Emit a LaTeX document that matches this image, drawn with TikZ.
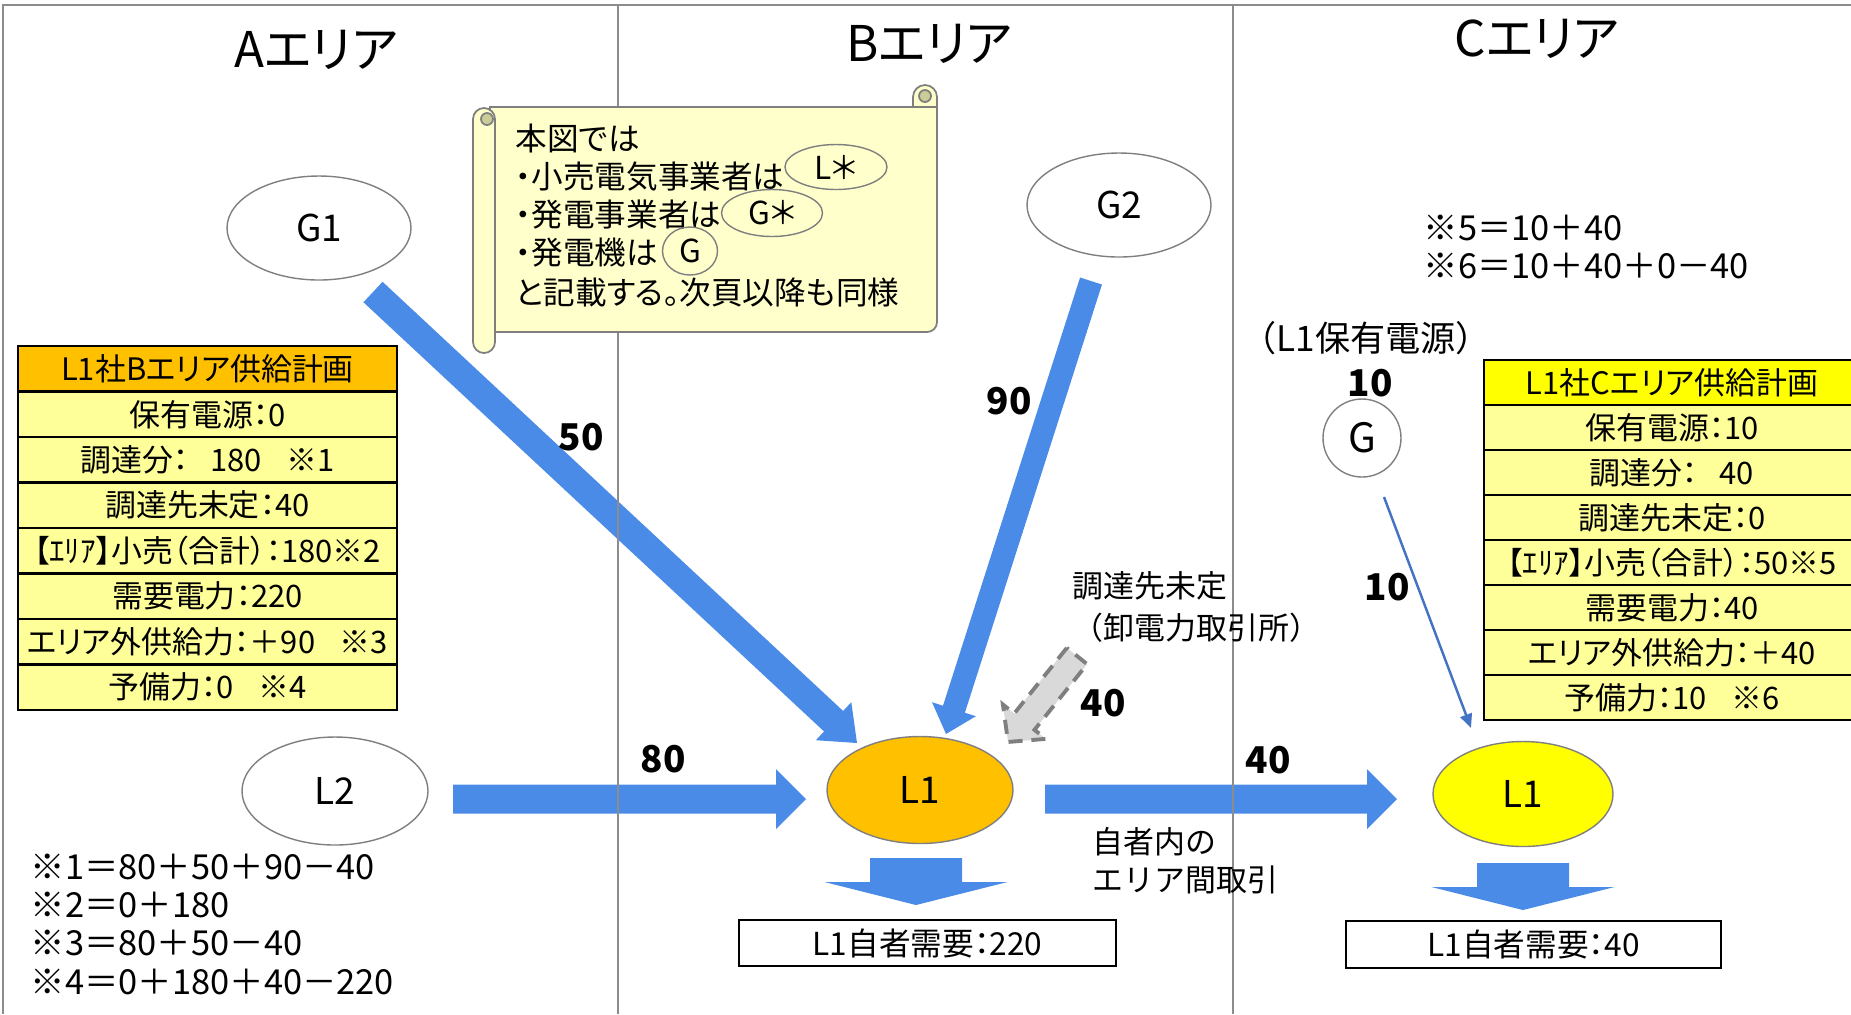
\documentclass[tikz,border=0pt]{standalone}
\usepackage{fontspec}
\setmainfont{Noto Sans CJK JP}[RawFeature={+palt}]
\newfontfamily\fwfont{Noto Sans CJK JP}
\usetikzlibrary{positioning,calc,shapes.geometric,arrows.meta}

\definecolor{FlowBlue}{HTML}{4B8BE8}
\definecolor{ThinBlue}{HTML}{4472C4}
\definecolor{LOrange}{HTML}{FFC000}
\definecolor{LYellow}{HTML}{FFFF00}
\definecolor{RowYellow}{HTML}{FFFF99}
\definecolor{ScrollFill}{HTML}{FFFFCC}
\definecolor{ScrollCurl}{HTML}{CCCC99}
\definecolor{FrameGray}{HTML}{8C8C8C}
\definecolor{GrayFill}{HTML}{D9D9D9}
\definecolor{GrayEdge}{HTML}{7F7F7F}

\tikzset{
  fatblue/.style={fill=FlowBlue},
  fatgray/.style={fill=GrayFill, draw=GrayEdge, line width=1.1pt, dash pattern=on 4pt off 2.5pt},
  areaframe/.style={draw=FrameGray, line width=0.6pt},
  areatitle/.style={font=\fontsize{14}{17}\selectfont},
  party/.style={ellipse, draw=GrayEdge, line width=0.4pt, inner sep=0pt,
    minimum width=18.4mm, minimum height=10.4mm, font=\fontsize{10.5}{12}\selectfont},
  planrow/.style={draw=black, line width=0.6pt, fill=RowYellow, inner sep=0pt, outer sep=0pt,
    minimum width=37.9mm, minimum height=4.55mm, font=\fontsize{8.8}{10}\selectfont},
  flownum/.style={font=\fontsize{10.5}{12}\selectfont\bfseries},
  notetext/.style={anchor=west, align=left, inner sep=0pt},
  scrollbox/.style={fill=ScrollFill, draw=GrayEdge, line width=0.5pt},
  scrollcurl/.style={fill=ScrollCurl, draw=GrayEdge, line width=0.5pt},
  scrolltext/.style={anchor=west, inner sep=0pt, font=\fontsize{9}{11}\selectfont},
  marker/.style={ellipse, draw=GrayEdge, line width=0.4pt, inner sep=0pt, font=\fontsize{9}{11}\selectfont},
  thinflow/.style={draw=ThinBlue, line width=0.7pt, -{Triangle[length=1.4mm,width=1.2mm]}},
  demandbox/.style={draw=black, line width=0.6pt, inner sep=0pt, minimum width=37.7mm,
    minimum height=4.6mm, font=\fontsize{9}{11}\selectfont}
}

% block arrow: [style]{tail}{tip}{shaft half width}{head half width}{head length}
\newcommand{\bigarrow}[6][fatblue]{%
  \path[#1] let \p1=(#2), \p2=(#3),
    \n1={atan2(\y2-\y1,\x2-\x1)}, \n2={veclen(\x2-\x1,\y2-\y1)} in
    [shift={(\p1)}, rotate=\n1]
    (0pt,-#4) -- (\n2-#6,-#4) -- (\n2-#6,-#5) -- (\n2,0pt)
    -- (\n2-#6,#5) -- (\n2-#6,#4) -- (0pt,#4) -- cycle;}

\begin{document}
\begin{tikzpicture}[x=0.1mm, y=-0.1mm]
 \useasboundingbox (0,0) rectangle (1851,1014);

 %%%%%%%%%% Titles %%%%%%%%%%
 \node[areatitle] (titleA) at (316,50) {Aエリア};
 \node[areatitle] (titleB) at (929,44) {Bエリア};
 \node[areatitle] (titleC) at (1537,39) {Cエリア};

 %%%%%%%%%% Players %%%%%%%%%%
 \node[party] (G1) at (319,228) {G1};
 \node[party] (G2) at (1119,205) {G2};
 \node[party, minimum width=18.6mm, minimum height=10.8mm] (L2) at (335,791) {L2};
 \node[party, fill=LOrange, minimum width=18.6mm, minimum height=10.7mm] (L1B) at (920,790) {L1};
 \node[party, fill=LYellow, minimum width=18mm, minimum height=10.5mm] (L1C) at (1523,794) {L1};
 \node[circle, draw=GrayEdge, line width=0.4pt, minimum size=7.8mm, inner sep=0pt,
   font=\fontsize{11.5}{13}\selectfont] (GC) at (1362,438) {G};

 %%%%%%%%%% Block arrows %%%%%%%%%%
 \coordinate (g1tail) at ($(G1)+(54,64)$);
 \coordinate (g1tip) at ($(L1B)+(-63,-47)$);
 \coordinate (g2tail) at ($(G2)+(-28,76)$);
 \coordinate (g2tip) at ($(L1B)+(26,-56)$);
 \coordinate (l2tail) at ($(L2)+(118,8)$);
 \coordinate (l2tip) at ($(L1B)+(-114,9)$);
 \coordinate (l1tail) at ($(L1B)+(125,9)$);
 \coordinate (l1tip) at ($(L1C)+(-126,5)$);
 \coordinate (jtail) at ($(L1B)+(157,-134)$);
 \coordinate (jtip) at ($(L1B)+(88,-48)$);
 \coordinate (dBtail) at ($(L1B)+(-4,68)$);
 \coordinate (dBtip) at ($(L1B)+(-4,115)$);
 \coordinate (dCtail) at ($(L1C)+(0,69)$);
 \coordinate (dCtip) at ($(L1C)+(0,116)$);

 \bigarrow{g1tail}{g1tip}{1.4mm}{2.6mm}{3.2mm}
 \bigarrow{g2tail}{g2tip}{1.15mm}{2.3mm}{2.6mm}
 \bigarrow{l2tail}{l2tip}{1.45mm}{3mm}{3mm}
 \bigarrow{l1tail}{l1tip}{1.45mm}{3mm}{3mm}
 \bigarrow[fatgray]{jtail}{jtip}{1.3mm}{2.75mm}{2.6mm}
 \bigarrow{dBtail}{dBtip}{4.6mm}{9.15mm}{2.3mm}
 \bigarrow{dCtail}{dCtip}{4.6mm}{9.15mm}{2.3mm}

 \coordinate (gctail) at ($(GC)+(22,59)$);
 \coordinate (gctip) at ($(L1C)+(-52,-66)$);
 \draw[thinflow] (gctail) -- (gctip);

 %%%%%%%%%% Area frames %%%%%%%%%%
 \draw[areaframe] (3,1014) -- (3,5) -- (1851,5);
 \draw[areaframe] (618,5) -- (618,1014);
 \draw[areaframe] (1233,5) -- (1233,1014);

 %%%%%%%%%% Flow numbers %%%%%%%%%%
 \node[flownum] (n50) at (581,437) {50};
 \node[flownum] (n90) at (1009,401) {90};
 \node[flownum] (n80) at (663,759) {80};
 \node[flownum] (n40) at (1268,760) {40};
 \node[flownum] (nj40) at (1103,703) {40};
 \node[flownum] (ngc) at (1370,383) {10};
 \node[flownum] (ngc2) at (1387,587) {10};

 \node[font=\fwfont\fontsize{10}{12}\selectfont] (own) at (1366,338) {（L1保有電源）};
 \node[notetext, font=\fwfont\fontsize{8.8}{11.7}\selectfont] (jepx) at (1072,607) {調達先未定\\（卸電力取引所）};
 \node[notetext, font=\fwfont\fontsize{8.8}{10.9}\selectfont] (inner) at (1092,861) {自者内の\\エリア間取引};

 %%%%%%%%%% Supply plan B %%%%%%%%%%
 \node[planrow, fill=LOrange] (planB0) at (207.5,368.75) {L1社Bエリア供給計画};
 \node[planrow, below=0pt of planB0] (planB1) {保有電源：0};
 \node[planrow, below=0pt of planB1] (planB2) {調達分：\hspace{0.7em}180\hspace{0.8em}※1};
 \node[planrow, below=0pt of planB2] (planB3) {調達先未定：40};
 \node[planrow, below=0pt of planB3] (planB4) {【ｴﾘｱ】小売（合計）：180※2};
 \node[planrow, below=0pt of planB4] (planB5) {需要電力：220};
 \node[planrow, below=0pt of planB5] (planB6) {エリア外供給力：＋90\hspace{0.8em}※3};
 \node[planrow, below=0pt of planB6] (planB7) {予備力：0\hspace{0.8em}※4};

 %%%%%%%%%% Supply plan C %%%%%%%%%%
 \node[planrow, fill=LYellow, minimum width=37.6mm, minimum height=4.5mm] (planC0) at (1672,382.5) {L1社Cエリア供給計画};
 \node[planrow, minimum width=37.6mm, minimum height=4.5mm, below=0pt of planC0] (planC1) {保有電源：10};
 \node[planrow, minimum width=37.6mm, minimum height=4.5mm, below=0pt of planC1] (planC2) {調達分：\hspace{0.7em}40};
 \node[planrow, minimum width=37.6mm, minimum height=4.5mm, below=0pt of planC2] (planC3) {調達先未定：0};
 \node[planrow, minimum width=37.6mm, minimum height=4.5mm, below=0pt of planC3] (planC4) {【ｴﾘｱ】小売（合計）：50※5};
 \node[planrow, minimum width=37.6mm, minimum height=4.5mm, below=0pt of planC4] (planC5) {需要電力：40};
 \node[planrow, minimum width=37.6mm, minimum height=4.5mm, below=0pt of planC5] (planC6) {エリア外供給力：＋40};
 \node[planrow, minimum width=37.6mm, minimum height=4.5mm, below=0pt of planC6] (planC7) {予備力：10\hspace{0.8em}※6};

 %%%%%%%%%% Notes %%%%%%%%%%
 \node[notetext, font=\fontsize{9.8}{10.9}\selectfont] (notesB) at (30,924) {※1＝80＋50＋90－40\\※2＝0＋180\\※3＝80＋50－40\\※4＝0＋180＋40－220};
 \node[notetext, font=\fontsize{9.8}{10.9}\selectfont] (notesC) at (1423,247) {※5＝10＋40\\※6＝10＋40＋0－40};

 %%%%%%%%%% Own demand %%%%%%%%%%
 \node[demandbox] (demB) at (927.5,943) {L1自者需要：220};
 \node[demandbox, minimum width=37.5mm, minimum height=4.7mm] (demC) at (1533.5,944.5) {L1自者需要：40};

 %%%%%%%%%% Scroll note %%%%%%%%%%
 \filldraw[scrollbox] (490,107) -- (937,107) -- (937,322) arc[start angle=0, end angle=90, radius=10] -- (490,332) -- cycle;
 \filldraw[scrollbox] (913,107) -- (913,97) arc[start angle=180, end angle=360, radius=12] -- (937,107) -- cycle;
 \filldraw[scrollcurl] (925,96) circle[radius=6];
 \filldraw[scrollbox] (473,119) arc[start angle=180, end angle=360, radius=11] -- (495,342) arc[start angle=0, end angle=180, radius=11] -- cycle;
 \filldraw[scrollcurl] (487,119) circle[radius=6];

 \node[scrolltext] (sc1) at (515,138) {本図では};
 \node[scrolltext] (sc2) at (515,177) {・小売電気事業者は};
 \node[scrolltext] (sc3) at (515,215) {・発電事業者は};
 \node[scrolltext] (sc4) at (515,253) {・発電機は};
 \node[scrolltext] (sc5) at (515,292) {と記載する。次頁以降も同様};
 \node[marker, minimum width=10.2mm, minimum height=4.5mm] (markL) at (836,167) {L＊};
 \node[marker, minimum width=10.1mm, minimum height=4.7mm] (markGs) at (772,213) {G＊};
 \node[marker, minimum width=5.5mm, minimum height=4.8mm] (markG) at (690,251) {G};

\end{tikzpicture}
\end{document}
